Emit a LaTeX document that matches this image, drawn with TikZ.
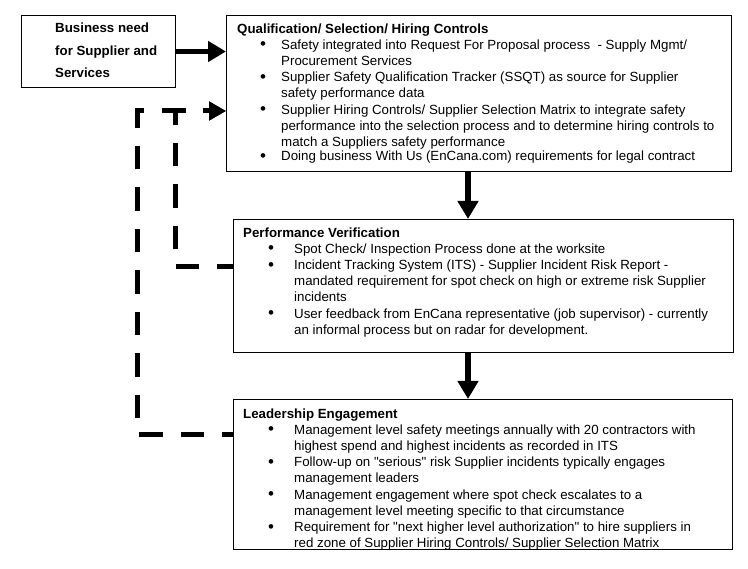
\documentclass[tikz,border=0pt]{standalone}
\usepackage{fontspec}
\setmainfont{Liberation Sans}[Ligatures=TeXOff]
\usetikzlibrary{arrows.meta}
\newcommand\bigbul{{\fontsize{17}{17}\selectfont\raisebox{-0.6pt}{\textbullet}}}
\newcommand\bq{\makebox[44pt][l]{\hspace{26pt}\makebox[0pt]{\bigbul}}}
\newcommand\bp{\makebox[51pt][l]{\hspace{28pt}\makebox[0pt]{\bigbul}}}
\tikzset{
  box/.style={draw=black, line width=1pt, anchor=north west, inner sep=0pt},
  txt/.style={anchor=north west, inner sep=0pt, align=left, font=\fontsize{13.3}{16.2}\selectfont},
  solidarrow/.style={line width=5.5pt, -{Triangle[length=18pt,width=20pt]}},
  dasharrow/.style={line width=5pt, dash pattern=on 23.5pt off 18pt, -{Triangle[length=17pt,width=18pt]}}
}
\begin{document}
\begin{tikzpicture}[x=1pt,y=-1pt]
\useasboundingbox (0,0) rectangle (748,569);
% boxes
\node[box, minimum width=154.5pt, minimum height=72pt] (biz) at (20.5,15) {};
\node[box, minimum width=505pt, minimum height=156pt] (qual) at (226,15) {};
\node[box, minimum width=500pt, minimum height=133pt] (perf) at (233,219) {};
\node[box, minimum width=499pt, minimum height=150pt] (lead) at (233,399) {};
% texts
\node[txt, font=\fontsize{13.3}{22.5}\selectfont\bfseries] (bizt) at (55,17) {%
\begin{tabular}{@{}l@{}}Business need\\for Supplier and\\Services\end{tabular}};
\node[txt] (qualt) at (237,21.5) {%
\begin{tabular}{@{}l@{}l@{}}
\multicolumn{2}{@{}l@{}}{\bfseries Qualification/ Selection/ Hiring Controls}\\
\bq & Safety integrated into Request For Proposal process \ - Supply Mgmt/\\
 & Procurement Services\\
\bq & Supplier Safety Qualification Tracker (SSQT) as source for Supplier\\
 & safety performance data\\
\bq & Supplier Hiring Controls/ Supplier Selection Matrix to integrate safety\\
 & performance into the selection process and to determine hiring controls to\\
 & match a Suppliers safety performance\\[-2pt]
\bq & Doing business With Us (EnCana.com) requirements for legal contract
\end{tabular}};
\node[txt] (perft) at (243,225.5) {%
\begin{tabular}{@{}l@{}l@{}}
\multicolumn{2}{@{}l@{}}{\bfseries Performance Verification}\\
\bp & Spot Check/ Inspection Process done at the worksite\\
\bp & Incident Tracking System (ITS) - Supplier Incident Risk Report -\\
 & mandated requirement for spot check on high or extreme risk Supplier\\
 & incidents\\
\bp & User feedback from EnCana representative (job supervisor) - currently\\
 & an informal process but on radar for development.
\end{tabular}};
\node[txt] (leadt) at (243,406.5) {%
\begin{tabular}{@{}l@{}l@{}}
\multicolumn{2}{@{}l@{}}{\bfseries Leadership Engagement}\\
\bp & Management level safety meetings annually with 20 contractors with\\
 & highest spend and highest incidents as recorded in ITS\\
\bp & Follow-up on "serious" risk Supplier incidents typically engages\\
 & management leaders\\
\bp & Management engagement where spot check escalates to a\\
 & management level meeting specific to that circumstance\\
\bp & Requirement for "next higher level authorization" to hire suppliers in\\
 & red zone of Supplier Hiring Controls/ Supplier Selection Matrix
\end{tabular}};
% helper coordinates
\coordinate (ax) at (468,0);
\coordinate (o1) at (137.5,435);
\coordinate (o2) at (137.5,111);
\coordinate (i1) at (175,267);
\coordinate (i2) at (175,111);
% solid arrows
\draw[solidarrow] (biz.east) -- (qual.west |- biz.east);
\draw[solidarrow] (qual.south -| ax) -- (perf.north -| ax);
\draw[solidarrow] (perf.south -| ax) -- (lead.north -| ax);
% dashed feedback arrows
\draw[dasharrow, dash phase=12.5pt] (lead.west |- o1) -- (o1) -- (o2) -- (o2 -| qual.west);
\draw[dasharrow, dash phase=7.5pt] (perf.west |- i1) -- (i1) -- (i2) -- (i2 -| qual.west);
\end{tikzpicture}
\end{document}
